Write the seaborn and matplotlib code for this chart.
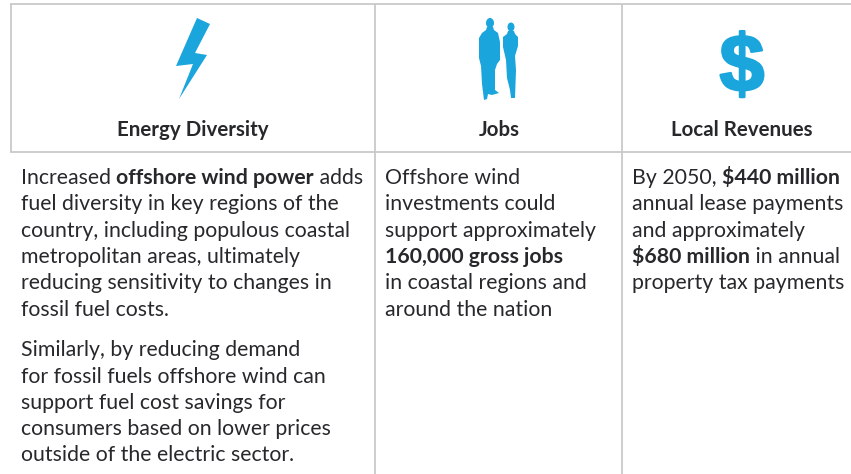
import matplotlib
matplotlib.use("Agg")
import matplotlib.pyplot as plt
import matplotlib.patheffects as pe
import seaborn as sns
from matplotlib.patches import Polygon, Ellipse

# column headings and their centres
headers = ["Energy Diversity", "Jobs", "Local Revenues"]
header_x = [193, 499, 742]

# body text, each line is a list of (text, bold) runs
col1_lines = [
    [("Increased ", False), ("offshore wind power", True), (" adds", False)],
    [("fuel diversity in key regions of the", False)],
    [("country, including populous coastal", False)],
    [("metropolitan areas, ultimately", False)],
    [("reducing sensitivity to changes in", False)],
    [("fossil fuel costs.", False)],
]
col1_lines2 = [
    [("Similarly, by reducing demand", False)],
    [("for fossil fuels offshore wind can", False)],
    [("support fuel cost savings for", False)],
    [("consumers based on lower prices", False)],
    [("outside of the electric sector.", False)],
]
col2_lines = [
    [("Offshore wind", False)],
    [("investments could", False)],
    [("support approximately", False)],
    [("160,000 gross jobs", True)],
    [("in coastal regions and", False)],
    [("around the nation", False)],
]
col3_lines = [
    [("By 2050, ", False), ("$440 million", True)],
    [("annual lease payments", False)],
    [("and approximately", False)],
    [("$680 million", True), (" in annual", False)],
    [("property tax payments", False)],
]

BLUE = "#1aa5dc"
GRID = "#c9c9c9"
TEXT = "#26282b"

sns.set_theme(style="white")
plt.rcParams["font.family"] = ["Lato", "DejaVu Sans"]

fig = plt.figure(figsize=(8.51, 4.74), dpi=100)
ax = fig.add_axes([0, 0, 1, 1])
ax.set_xlim(0, 851)
ax.set_ylim(474, 0)
ax.axis("off")

# table rules
ax.hlines(4, 10, 851, color=GRID, lw=1.3)
ax.hlines(152, 10, 851, color=GRID, lw=1.3)
ax.vlines(10.5, 4, 152, color=GRID, lw=1.3)
ax.vlines([375, 622], 4, 474, color=GRID, lw=1.3)

# lightning bolt
bolt = [(197, 18), (210, 24), (195, 53), (207, 55), (179, 99), (193, 64), (176, 66)]
ax.add_patch(Polygon(bolt, closed=True, fc=BLUE, ec="none"))

# two standing people
man = [(487, 27), (493, 27), (494, 30), (498, 33), (500, 42), (500, 60), (497, 64),
       (495, 70), (495, 90), (499, 93), (492, 95), (488, 94), (487, 99), (484, 100),
       (482, 84), (481, 66), (479, 58), (479, 38), (482, 33), (486, 30)]
woman = [(508, 31), (514, 31), (515, 34), (518, 37), (518, 46), (515, 56), (516, 70),
         (515, 98), (511, 98), (510, 90), (507, 78), (506, 60), (503, 47), (503, 37), (507, 34)]
ax.add_patch(Polygon(man, closed=True, fc=BLUE, ec="none"))
ax.add_patch(Polygon(woman, closed=True, fc=BLUE, ec="none"))
ax.add_patch(Ellipse((490, 23), 8, 10, fc=BLUE, ec="none"))
ax.add_patch(Ellipse((511, 27), 7, 9, fc=BLUE, ec="none"))

# dollar sign, thickened with a stroke
ax.text(742, 70, "$", color=BLUE, fontsize=58, fontweight="bold", ha="center", va="center",
        family=["Liberation Sans"],
        path_effects=[pe.withStroke(linewidth=1.8, foreground=BLUE)])

for label, x in zip(headers, header_x):
    ax.text(x, 130, label, color=TEXT, fontsize=14.8, fontweight="bold", ha="center", va="center")


def run_width(text, weight, size):
    # outer letters keep the spaces at the run ends in the measurement
    renderer = fig.canvas.get_renderer()
    full = ax.text(0, 0, "a" + text + "a", fontsize=size, fontweight=weight)
    base = ax.text(0, 0, "aa", fontsize=size, fontweight=weight)
    w = full.get_window_extent(renderer).width - base.get_window_extent(renderer).width
    full.remove()
    base.remove()
    return w


def draw_lines(lines, x, y, step, size=15.3):
    for i, runs in enumerate(lines):
        cur = x
        for text, bold in runs:
            weight = "bold" if bold else "normal"
            ax.text(cur, y + i * step, text, color=TEXT, fontsize=size, fontweight=weight,
                    ha="left", va="baseline")
            cur += run_width(text, weight, size)


draw_lines(col1_lines, 21, 184, 26.3)
draw_lines(col1_lines2, 21, 356.5, 26.2)
draw_lines(col2_lines, 385, 184, 26.3)
draw_lines(col3_lines, 632, 184, 26.3)

fig.savefig("out.png", dpi=100)
